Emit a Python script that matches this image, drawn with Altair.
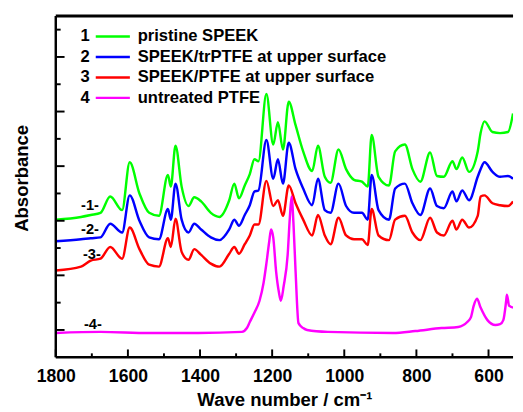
import altair as alt
import pandas as pd

FONT = "Liberation Sans"

# shared wavenumber grid (cm^-1) for spectra 1-3
wavenumber = [1800, 1730, 1703, 1676, 1649, 1616, 1595, 1568, 1541, 1514,
              1489, 1481, 1468, 1451, 1432, 1416, 1397, 1370, 1346, 1319,
              1305, 1292, 1276, 1262, 1249, 1238, 1216, 1197, 1184, 1170,
              1154, 1135, 1114, 1089, 1073, 1054, 1038, 1016, 995, 973,
              951, 935, 924, 905, 876, 859, 832, 811, 789, 762,
              743, 724, 700, 689, 673, 654, 630, 622, 611, 589,
              568, 546, 532]

pristine_speek = [4.04, 4.14, 4.21, 4.29, 4.89, 4.39, 6.14, 5.00, 4.29, 4.18,
                  5.68, 5.25, 6.75, 5.25, 4.54, 4.86, 4.71, 4.29, 4.14, 4.75,
                  5.36, 4.82, 5.29, 5.71, 6.25, 6.18, 8.64, 6.79, 7.61, 6.61,
                  8.36, 7.50, 6.54, 5.82, 6.75, 5.61, 5.39, 6.61, 5.89, 5.50,
                  5.43, 5.25, 7.14, 5.61, 5.29, 6.54, 6.79, 5.89, 5.43, 6.50,
                  5.64, 5.61, 6.18, 5.89, 6.32, 5.79, 6.54, 7.21, 7.64, 7.25,
                  7.21, 7.25, 7.93]

speek_trptfe = [3.25, 3.32, 3.36, 3.39, 3.89, 3.57, 4.93, 4.00, 3.39, 3.32,
                4.43, 4.04, 5.36, 4.04, 3.57, 3.89, 3.68, 3.39, 3.29, 3.68,
                4.04, 3.82, 4.21, 4.57, 5.07, 5.11, 6.96, 5.54, 6.25, 5.36,
                6.86, 5.89, 5.18, 4.57, 5.54, 4.39, 4.29, 5.36, 4.54, 4.29,
                4.29, 4.04, 5.68, 4.39, 4.04, 5.18, 5.36, 4.64, 4.21, 5.18,
                4.54, 4.46, 5.07, 4.71, 5.11, 4.75, 5.61, 5.89, 6.14, 5.79,
                5.61, 5.64, 5.54]

speek_ptfe = [2.18, 2.32, 2.54, 2.61, 3.04, 2.61, 3.75, 2.96, 2.39, 2.32,
              3.36, 3.04, 4.07, 2.86, 2.57, 2.96, 2.75, 2.43, 2.32, 2.79,
              3.04, 2.79, 3.14, 3.46, 3.86, 3.86, 5.46, 4.54, 4.75, 4.18,
              5.29, 4.64, 4.04, 3.46, 4.21, 3.46, 3.14, 4.11, 3.46, 3.32,
              3.32, 3.11, 4.43, 3.46, 3.29, 4.04, 4.18, 3.57, 3.29, 4.11,
              3.57, 3.46, 4.00, 3.68, 4.04, 3.75, 4.18, 4.89, 4.93, 4.64,
              4.57, 4.54, 4.71]

# untreated PTFE has its own grid
ptfe_wavenumber = [1800, 1676, 1541, 1405, 1284, 1270, 1262, 1249, 1235, 1224,
                   1216, 1208, 1203, 1197, 1189, 1181, 1176, 1168, 1157, 1151,
                   1146, 1141, 1135, 1127, 1114, 1103, 1046, 865, 803, 730,
                   684, 659, 649, 641, 632, 622, 603, 581, 568, 559,
                   551, 549, 543, 532]
untreated_ptfe = [-0.11, -0.07, -0.11, -0.11, -0.07, 0.07, 0.29, 0.64, 1.07, 1.71,
                  2.43, 3.25, 3.68, 3.39, 2.14, 1.36, 1.07, 1.61, 2.75, 4.11,
                  4.89, 3.93, 2.14, 0.25, 0.07, 0.00, -0.07, -0.11, -0.04, 0.07,
                  0.11, 0.29, 0.46, 0.89, 1.14, 0.82, 0.36, 0.18, 0.21, 0.36,
                  1.07, 1.29, 0.89, 0.82]

series_names = ["pristine SPEEK", "SPEEK/trPTFE at upper surface",
                "SPEEK/PTFE at upper surface", "untreated PTFE"]
series_nums = ["1", "2", "3", "4"]
series_colors = ["#00FF00", "#0000FF", "#FF0000", "#FF00FF"]

# in-plot curve tags
tag_text = ["-1-", "-2-", "-3-", "-4-"]
tag_wn = [1705, 1705, 1700, 1697]
tag_abs = [4.57, 3.68, 2.79, 0.21]

x_major = [1800, 1600, 1400, 1200, 1000, 800, 600]
x_minor = [1700, 1500, 1300, 1100, 900, 700]
y_major = [0, 2, 4, 6, 8, 10]
y_minor = [1, 3, 5, 7, 9, 11]

assert len(wavenumber) == len(pristine_speek) == len(speek_trptfe) == len(speek_ptfe)
assert len(ptfe_wavenumber) == len(untreated_ptfe)

rows = []
for name, vals in zip(series_names[:3], [pristine_speek, speek_trptfe, speek_ptfe]):
    for w, v in zip(wavenumber, vals):
        rows.append({"series": name, "wn": w, "a": v})
for w, v in zip(ptfe_wavenumber, untreated_ptfe):
    rows.append({"series": series_names[3], "wn": w, "a": v})
df = pd.DataFrame(rows)

legend_df = pd.DataFrame({"num": series_nums, "label": series_names,
                          "color": series_colors, "row": list(range(4))})
tags_df = pd.DataFrame({"t": tag_text, "wn": tag_wn, "a": tag_abs})

W, H = 469, 350

x_scale = alt.Scale(domain=[1800, 532], nice=False, zero=False)
y_scale = alt.Scale(domain=[-1, 11.5], nice=False, zero=False)

x_axis = alt.Axis(
    values=x_major, format="d", grid=False, ticks=False, domain=False,
    labelFont=FONT, labelFontSize=18, labelFontWeight="bold", labelColor="black",
    labelPadding=11, labelFlush=False,
    title="Wave number / cm⁻¹", titleFont=FONT, titleFontSize=19,
    titleFontWeight="bold", titleColor="black", titlePadding=5,
)
y_axis = alt.Axis(
    labels=False, grid=False, ticks=False, domain=False,
    title="Absorbance", titleFont=FONT, titleFontSize=19, titleFontWeight="bold",
    titleColor="black", titlePadding=25, titleY=166,
)

X = alt.X("wn:Q", scale=x_scale, axis=x_axis)
Y = alt.Y("a:Q", scale=y_scale, axis=y_axis)

lines = alt.Chart(df).mark_line(strokeWidth=2.5, clip=True, interpolate="monotone").encode(
    x=X, y=Y,
    color=alt.Color("series:N", scale=alt.Scale(domain=series_names, range=series_colors), legend=None),
)

tags = alt.Chart(tags_df).mark_text(font=FONT, fontSize=15, fontWeight="bold", color="black").encode(
    x=X, y=Y, text="t:N",
)

# inward tick marks
def xticks(vals, length):
    d = pd.DataFrame({"wn": vals})
    return alt.Chart(d).mark_rule(color="black", strokeWidth=2).encode(
        x=X, y=alt.value(H), y2=alt.value(H - length))

def yticks(vals, length):
    d = pd.DataFrame({"a": vals})
    return alt.Chart(d).mark_rule(color="black", strokeWidth=2).encode(
        y=Y, x=alt.value(0), x2=alt.value(length))

frame_src = pd.DataFrame({"k": [0]})
frame_left = alt.Chart(frame_src).mark_rule(color="black", strokeWidth=2.5).encode(
    x=alt.value(0), y=alt.value(0), y2=alt.value(H))
frame_bottom = alt.Chart(frame_src).mark_rule(color="black", strokeWidth=2.5).encode(
    x=alt.value(0), x2=alt.value(W), y=alt.value(H))
frame_top = alt.Chart(frame_src).mark_rule(color="black", strokeWidth=3).encode(
    x=alt.value(0), x2=alt.value(W), y=alt.value(0))

leg_base = alt.Chart(legend_df).transform_calculate(py="21 + datum.row * 21")
leg_num = leg_base.mark_text(font=FONT, fontSize=17, fontWeight="bold", color="black",
                             align="center", baseline="middle").encode(
    x=alt.value(30), y=alt.Y("py:Q", scale=None), text="num:N")
leg_line = leg_base.mark_rule(strokeWidth=2.5).encode(
    x=alt.value(41), x2=alt.value(76), y=alt.Y("py:Q", scale=None),
    color=alt.Color("color:N", scale=None))
leg_lab = leg_base.mark_text(font=FONT, fontSize=17, fontWeight="bold", color="black",
                             align="left", baseline="middle").encode(
    x=alt.value(84), y=alt.Y("py:Q", scale=None), text="label:N")

chart = alt.layer(
    lines, tags,
    xticks(x_major, 8), xticks(x_minor, 4), yticks(y_major, 9), yticks(y_minor, 5),
    frame_left, frame_bottom, frame_top,
    leg_line, leg_num, leg_lab,
).properties(
    width=W, height=H,
    padding={"left": 5, "top": 1, "right": 0, "bottom": 0},
    background="white",
).configure_view(stroke=None)

chart.save("out.html", embed_options={"renderer": "svg", "actions": False})
